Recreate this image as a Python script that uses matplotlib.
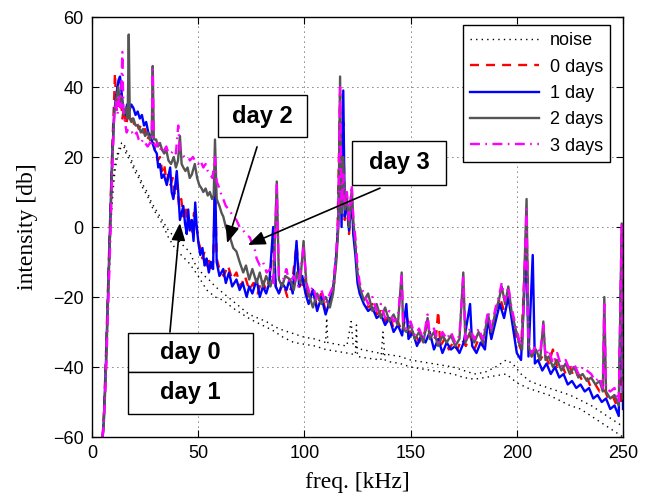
import matplotlib
matplotlib.use("Agg")
import matplotlib.pyplot as plt
from matplotlib.patches import Rectangle

# --- spectra (freq kHz, intensity dB) ---
# noise: two dotted traces, one legend entry
noise_a = [(5, -60), (6, -48), (7, -30), (8, -10), (9, 5), (10, 14), (11, 19), (12, 21), (13, 23), (14, 24),
           (15, 24), (16, 22), (18, 20), (20, 17), (22, 15), (24, 12), (26, 10), (28, 7), (31, 4), (33, 2),
           (36, -1), (39, -3), (41, -4), (44, -6), (46, -7), (48, -10), (50, -12), (53, -14), (55, -15),
           (58, -17), (62, -19), (66, -21), (70, -23), (74, -25), (78, -26), (82, -27), (86, -28.5),
           (90, -29.5), (95, -30.5), (100, -31.5), (105, -32), (110, -33), (110.5, -26), (111, -33),
           (115, -33.5), (120, -34), (122, -27), (123, -34), (127, -35), (131, -35.5), (135, -36),
           (140, -36.5), (145, -37), (150, -38), (155, -38.5), (160, -39), (165, -39.5), (170, -40),
           (175, -41), (180, -42), (185, -41.5), (190, -40), (195, -38), (198, -39), (202, -42), (206, -44),
           (210, -45), (215, -46), (220, -47), (225, -48), (230, -49.5), (235, -51), (240, -53), (245, -55),
           (250, -57)]
noise_b = [(5, -60), (6, -50), (7, -33), (8, -14), (9, 2), (10, 11), (11, 17), (12, 20), (13, 22), (14, 23),
           (15, 23), (16, 21), (18, 19), (20, 16), (22, 14), (24, 11), (26, 9), (28, 6), (31, 3), (33, 1),
           (36, -3), (39, -6), (42, -8), (46, -10.5), (50, -14), (54, -18), (58, -20), (62, -21), (66, -23),
           (70, -24.6), (75, -26.5), (80, -28), (85, -29.5), (90, -31.5), (95, -33), (100, -33.5),
           (105, -34), (110, -35), (115, -35.5), (120, -36), (124, -36.5), (124.5, -28), (125, -37),
           (130, -37.5), (136, -38), (137, -30), (138, -38), (140, -38.5), (145, -39), (150, -40),
           (155, -40.5), (160, -41), (165, -41.5), (170, -42), (175, -43), (180, -43.5), (185, -43),
           (190, -42.5), (195, -42), (200, -44.5), (205, -46), (210, -47), (215, -48), (220, -49.5),
           (225, -51), (230, -52), (235, -54), (240, -56), (245, -58), (250, -60)]

day0 = [(5, -60), (5.5, -55), (6.5, -38), (7.5, -18), (8.5, 2), (9.5, 22), (10.5, 38), (10.8, 44), (11.3, 36),
        (12, 40), (12.8, 34), (13.5, 38), (14.3, 31), (15, 34), (16, 29), (17, 32), (18, 30), (19, 31),
        (20, 29), (21, 30), (22, 28), (23, 29), (24, 27), (25, 28), (26, 25), (27, 26), (28, 23), (29, 24),
        (30, 21), (31, 19), (32, 20), (33, 16), (34, 18), (35, 13), (36, 15), (37, 12), (38, 14), (39, 9),
        (40, 12), (41, 6), (42, 8), (43, 3), (44, 6), (45, 0), (46, 3), (47, -2), (48, 4), (49, 2), (50, -4),
        (51, -6), (52, -9), (53, -7), (54, -11), (55, -9), (56, -13), (57, -10), (58, 10), (58.7, -9),
        (60, -12), (62, -14), (64, -11), (66, -15), (68, -13), (70, -17), (72, -14), (74, -18), (76, -16),
        (78, -19), (80, -15), (82, -18), (84, -14), (85.3, -2), (86.5, -17), (88, -19), (90, -16),
        (92, -20), (94, -17), (96.3, -5), (98, -18), (100, -15), (102, -21), (104, -18), (106, -23),
        (108, -19), (110, -24), (112, -21), (114, -16), (115.5, -4), (116.8, 38), (117.5, 4), (118.3, 30),
        (119, 2), (120, 6), (121, -2), (122.3, 8), (123, -1), (124, -6), (125, -14), (126, -18), (128, -21),
        (130, -23), (132, -22), (134, -25), (136, -24), (138, -27), (140, -25), (142, -29), (144, -27),
        (146, -30), (148, -25), (150, -31), (152, -30), (154, -33), (156, -31), (158, -28), (160, -33),
        (162, -31), (163, -24), (164, -34), (166, -32), (168, -35), (170, -33), (172, -35), (174, -32),
        (176, -34), (178, -31), (180, -35), (182, -32), (184, -34), (186, -28), (188, -31), (190, -25),
        (192, -20), (194, -24), (196, -19), (198, -26), (200, -32), (202, -35), (204.6, 0), (205.5, -34),
        (207, -37), (209, -35), (211, -38), (213, -36), (215, -39), (217, -35), (219, -40), (221, -39),
        (223, -42), (225, -40), (227, -43), (229, -42), (231, -44), (233, -43), (235, -46), (237, -45),
        (239, -47), (241, -46), (243, -49), (245, -48), (247, -51), (249, -50), (249.5, -2), (250, -48)]

day1 = [(5, -60), (5.5, -56), (6.5, -40), (7.5, -20), (8.5, 0), (9.5, 20), (10.5, 33), (11.5, 38), (12.5, 42),
        (13.2, 43), (14, 38), (14.8, 33), (15.5, 32), (16.5, 35), (17.5, 33), (18.5, 35), (19.5, 34),
        (20.5, 32), (21.5, 33), (22.5, 31), (23.5, 32), (24.5, 29), (25.5, 30), (26.5, 27), (27.5, 26),
        (28.5, 24), (29.5, 22), (30.5, 21), (31.2, 17), (32, 18), (32.8, 14), (33.8, 15), (35.2, 12),
        (36.8, 17), (37.5, 10), (38.3, 8), (39.2, 12), (39.9, 16), (40.6, 10), (41.4, 2), (42.2, 4),
        (43, 6), (43.8, 1), (44.6, -2), (45.3, 5), (46, -1), (47, 2), (47.8, -4), (48.6, 7), (49.3, 0),
        (50.2, -5), (51, -8), (52, -6), (53, -11), (54, -9), (55, -13), (56, -10), (57, -12), (57.9, 16),
        (58.7, -10), (60, -14), (61.8, -12), (63, -16), (64.5, -13), (66, -17), (68, -15), (69.5, -18),
        (71, -16), (72.8, -20), (74, -17), (75.5, -19), (77.5, -15), (79, -20), (80.5, -17), (82, -19),
        (83.5, -16), (85.3, 0), (86.5, -17), (88, -19), (89.5, -16), (91.6, -18), (93, -15), (94.5, -19),
        (96.3, -4), (97.5, -17), (99, -14), (100.5, -19), (102, -22), (104, -18), (106, -24), (108, -20),
        (110, -25), (112, -21), (113.5, -18), (115, -8), (116, 2), (116.8, 30), (117.5, 0), (118.3, 39),
        (119, 3), (120, 7), (121, -1), (122.3, 9), (123, -2), (124, -8), (125, -16), (126, -19), (128, -22),
        (130, -24), (132, -23), (134, -26), (136, -25), (138, -28), (140, -26), (142, -30), (144, -28),
        (146, -31), (148, -22), (149, -32), (151, -30), (153, -34), (155, -31), (157, -33), (159, -30),
        (161, -35), (163, -32), (165, -36), (167, -33), (169, -35), (171, -34), (173, -36), (175, -33),
        (178, -22), (179, -34), (181, -36), (183, -33), (185, -35), (186.5, -26), (188, -32), (190, -27),
        (192, -22), (194, -26), (196, -20), (198, -28), (200, -36), (202, -38), (204.6, -5), (205.5, -37),
        (207.5, -8), (208.5, -39), (210, -38), (212, -41), (214, -39), (216, -42), (218, -40), (220, -43),
        (222, -42), (224, -45), (226, -44), (228, -46), (230, -45), (232, -47), (234, -46), (236, -49),
        (238, -48), (240, -50), (242, -49), (244, -52), (246, -51), (248, -54), (249.4, -3), (250, -52)]

day2 = [(5, -60), (5.5, -57), (6.5, -42), (7.5, -22), (8.5, -2), (9.5, 18), (10.5, 33), (11.5, 37), (12.4, 40),
        (13.2, 35), (14, 37), (15, 32), (16, 34), (16.8, 31), (17.3, 55), (17.8, 31), (18.5, 30), (19.5, 31),
        (20.5, 29), (21.8, 29), (23, 27), (24, 28), (25, 26), (26.2, 27), (27.3, 25), (28.1, 26), (28.6, 46),
        (29.1, 25), (30.2, 25), (31, 23), (32, 24), (33, 22), (34, 21), (35, 22), (36, 19), (37.2, 18),
        (38.5, 20), (39.5, 17), (40.5, 19), (41.4, 26), (42.2, 18), (43, 17), (44, 16), (45, 17), (46, 14),
        (47, 15), (48.4, 18), (49.5, 14), (50.5, 12), (51.6, 11), (52.4, 10), (53.5, 11), (54.5, 9),
        (55.5, 10), (56.5, 8), (57.3, 9), (57.9, 25), (58.7, 8), (60, 6), (61, 4), (61.8, 3), (63, 0),
        (64.5, -2), (65.5, -4), (66.5, -6), (68, -7), (69.5, -10), (71.2, -13), (72.5, -11), (74, -15),
        (75.5, -12), (77.5, -16), (79, -13), (80.5, -17), (82, -14), (84, -17), (85.5, -14), (87, 13),
        (88, -15), (89.5, -17), (91, -14), (93.3, -15), (95, -18), (96.5, -13), (98, -16), (99.6, -4),
        (101, -17), (102.5, -20), (104, -23), (106, -19), (108, -22), (110, -20), (112, -23), (113.5, -19),
        (115, -10), (116, 0), (116.8, 43), (117.5, 4), (118.3, 20), (119, 5), (120, 9), (121, 0), (122.3, 11),
        (123, 2), (124, -5), (125, -13), (126, -17), (128, -21), (130, -19), (132, -24), (134, -22),
        (136, -26), (138, -23), (140, -27), (142, -25), (144, -28), (145.8, -13), (146.5, -29), (148, -30),
        (150, -28), (152, -32), (154, -30), (156, -33), (158, -26), (159, -32), (161, -30), (163, -34),
        (165, -31), (167, -33), (169, -31), (171, -34), (173, -32), (174.8, -13), (175.8, -33), (178, -30),
        (180, -33), (182, -30), (184, -33), (186.5, -25), (188, -30), (190, -24), (191.5, -21), (192.9, -17),
        (194.5, -22), (196, -17), (197.5, -24), (199, -28), (201, -33), (202.5, -35), (204.6, 8),
        (205.5, -34), (207, -37), (209, -35), (211, -38), (212.5, -27), (213.5, -38), (215, -37), (217, -40),
        (219, -38), (221, -41), (223, -39), (225, -42), (227, -40), (229, -43), (231, -42), (233, -44),
        (235, -43), (237, -45), (239, -44), (240.5, -47), (241.2, -20), (242, -47), (244, -49), (246, -48),
        (248, -51), (249.4, 1), (250, -49)]

day3 = [(5, -60), (5.5, -56), (6.5, -44), (7.5, -25), (8.5, -6), (9.5, 15), (10.5, 33), (11.3, 36), (12, 32),
        (12.8, 38), (13.5, 34), (14.3, 50), (14.8, 33), (15.5, 30), (16.3, 27), (17, 28), (18, 27), (19, 27),
        (20, 26), (21, 27), (22, 25), (23.1, 24), (24, 25), (25, 24), (26.2, 23), (27.3, 24), (28.1, 24),
        (28.6, 45), (29.1, 24), (30.2, 23), (31, 24), (32, 22), (33, 23), (34, 22), (35, 23), (36, 21),
        (37.2, 21), (38.5, 22), (39.5, 21), (40.6, 29), (41.4, 22), (42.2, 21), (43.5, 20), (45.3, 20),
        (46.1, 19), (47.5, 20), (48.5, 19), (50, 18), (51, 19), (52.4, 17), (53.5, 18), (54.5, 16),
        (55.5, 15), (56.7, 14), (57.9, 20), (58.7, 13), (60, 11), (61, 9), (61.8, 8), (63, 6), (64.5, 5),
        (66.5, 3), (68, 2), (69.5, 0), (71.2, -1), (72.5, -2), (74.3, -3), (75.5, -5), (76.5, -6), (77.5, -9),
        (79, -11), (80.5, -10), (82.2, -13), (84, -12), (85.5, -16), (87, 12), (88, -14), (90, -15),
        (91.5, -12), (93, -16), (95, -14), (97, -17), (98, -13), (99.6, -6), (101, -16), (102.5, -19),
        (104, -17), (106, -21), (108, -18), (110, -22), (112, -19), (113.5, -17), (115, -7), (116, 3),
        (116.8, 40), (117.5, 6), (118.3, 15), (119, 6), (120, 10), (121, 2), (122.3, 12), (123, 3), (124, -3),
        (125, -11), (126, -16), (128, -19), (130, -22), (132, -20), (134, -24), (136, -22), (138, -26),
        (140, -24), (142, -27), (144, -26), (145.8, -14), (146.5, -27), (148, -29), (150, -27), (152, -31),
        (154, -29), (156, -32), (158, -25), (159, -31), (161, -29), (163, -33), (165, -30), (167, -32),
        (169, -30), (171, -33), (173, -31), (174.8, -14), (175.8, -32), (178, -29), (180, -32), (182, -29),
        (184, -32), (186.5, -24), (188, -29), (190, -23), (191.5, -20), (192.9, -16), (194.5, -21),
        (196, -17), (197.5, -23), (199, -27), (201, -32), (202.5, -34), (204.6, 5), (205.5, -33), (207, -36),
        (209, -34), (211, -36), (212.5, -28), (213.5, -37), (215, -35), (217, -39), (219, -36), (221, -40),
        (223, -38), (225, -41), (227, -39), (229, -42), (231, -40), (233, -41), (235, -42), (237, -44),
        (239, -43), (240.5, -46), (241.2, -22), (242, -46), (244, -47), (246, -46), (248, -50), (249.4, 1),
        (250, -48)]

X_TICKS = [0, 50, 100, 150, 200, 250]
Y_TICKS = [-60, -40, -20, 0, 20, 40, 60]

SANS = ["Liberation Sans", "DejaVu Sans"]
SERIF = ["Liberation Serif", "DejaVu Serif"]


def xy(pts):
    return [p[0] for p in pts], [p[1] for p in pts]


fig = plt.figure(figsize=(6.51, 5.03), dpi=100)
ax = fig.add_axes([92 / 651, 66 / 503, 531 / 651, 420 / 503])

dots = (0, (1, 3))
ax.plot(*xy(noise_a), color="black", lw=1.0, ls=dots, label="noise")
ax.plot(*xy(noise_b), color="black", lw=1.0, ls=dots)
ax.plot(*xy(day0), color="#ff0000", lw=1.7, ls=(0, (3.8, 3.0)), label="0 days")
ax.plot(*xy(day1), color="#0000ff", lw=1.7, label="1 day")
ax.plot(*xy(day2), color="#555555", lw=1.7, label="2 days")
ax.plot(*xy(day3), color="#ff00ff", lw=1.7, ls=(0, (4.2, 2.3, 0.7, 2.3)), label="3 days")

ax.set_xlim(0, 250)
ax.set_ylim(-60, 60)
ax.set_xticks(X_TICKS)
ax.set_yticks(Y_TICKS)
ax.grid(True, color="black", ls=(0, (1, 5)), lw=0.6)
ax.tick_params(direction="in", top=True, right=True, length=5, labelsize=13, pad=6)
for lab in ax.get_xticklabels() + ax.get_yticklabels():
    lab.set_family(SANS)
for s in ax.spines.values():
    s.set_linewidth(1.0)

ax.set_xlabel("freq. [kHz]", family=SERIF, fontsize=17, labelpad=7)
ax.set_ylabel("intensity [db]", family=SERIF, fontsize=17, labelpad=11)

leg = ax.legend(loc="upper right", bbox_to_anchor=(0.9755, 0.981), borderaxespad=0, fancybox=False,
                framealpha=1, edgecolor="black", handlelength=3.8, labelspacing=0.52, borderpad=0.4,
                handletextpad=0.6, prop={"family": SANS, "size": 13})
leg.get_frame().set_linewidth(1.0)

# annotation boxes (data coords) and arrows
boxes = [
    ("day 2", 59.3, 25.7, 41.9, 12.0),
    ("day 3", 122.4, 12.0, 44.3, 12.6),
    ("day 0", 16.9, -41.4, 58.9, 11.1),
    ("day 1", 16.9, -53.4, 58.9, 12.0),
]
for txt, x0, y0, w, h in boxes:
    ax.add_patch(Rectangle((x0, y0), w, h, facecolor="white", edgecolor="black", lw=1.0, zorder=5))
    ax.text(x0 + w / 2, y0 + h / 2, txt, ha="center", va="center", fontsize=17, fontweight="bold",
            family=SANS, zorder=6)

arrows = [((63.6, -4.6), (77.7, 22.9)), ((73.4, -5.1), (135.6, 11.1)), ((41.4, 1.1), (36.7, -30.0))]
for tip, tail in arrows:
    ax.annotate("", xy=tip, xytext=tail, zorder=7,
                arrowprops=dict(arrowstyle="-|>,head_length=0.7,head_width=0.28", color="black",
                                lw=1.2, mutation_scale=15, shrinkA=0, shrinkB=0))

fig.savefig("out.png", dpi=100)
